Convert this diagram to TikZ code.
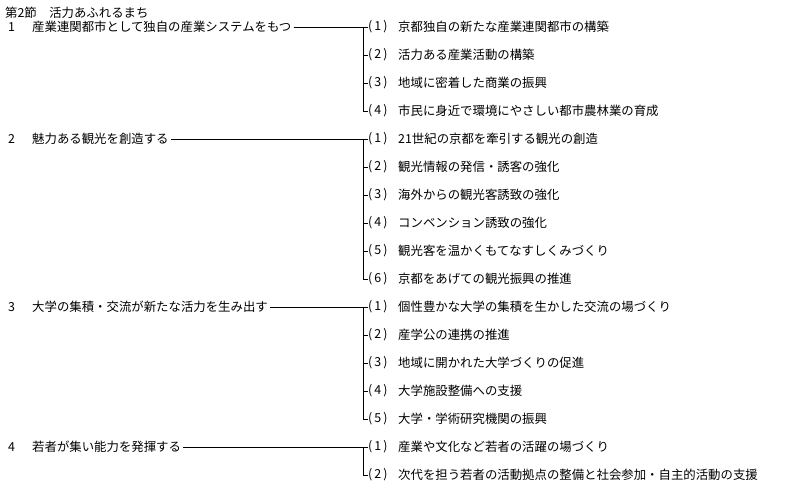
\documentclass[tikz,border=0pt]{standalone}
\usepackage{fontspec}
\setmainfont{Noto Sans CJK JP}
\begin{document}
\begin{tikzpicture}[x=1pt,y=-1pt,
  txt/.style={anchor=west,inner sep=0pt,font=\fontsize{12.4}{13}\selectfont},
  ln/.style={line width=0.8pt}]
\useasboundingbox (0,0) rectangle (795,493);
\node[txt] (title) at (5,13) {第2節　活力あふれるまち};
\def\vx{363}
\newcommand\grp[4]{%
  \node[txt] (n#1) at (8,#2) {#1};
  \node[txt] (h#1) at (32,#2) {#3};
  \coordinate (j#1) at (\vx,#2);
  \draw[ln] (h#1.east) ++(2,0) -- (j#1);
  \foreach \t [count=\i] in {#4} {
    \pgfmathsetmacro\yy{#2+28*(\i-1)}
    \node[txt] (l#1-\i) at (368,\yy) {(\,\i\,)};
    \node[txt] (t#1-\i) at (398,\yy) {\t};
    \coordinate (k#1-\i) at (\vx,\yy);
    \draw[ln] (k#1-\i) -- (l#1-\i.west);
    \ifnum\i>1
      \pgfmathtruncatemacro\pp{\i-1}
      \draw[ln] (k#1-\pp) -- (k#1-\i);
    \fi
  }}
\grp{1}{27}{産業連関都市として独自の産業システムをもつ}{京都独自の新たな産業連関都市の構築,活力ある産業活動の構築,地域に密着した商業の振興,市民に身近で環境にやさしい都市農林業の育成}
\grp{2}{139}{魅力ある観光を創造する}{21世紀の京都を牽引する観光の創造,観光情報の発信・誘客の強化,海外からの観光客誘致の強化,コンベンション誘致の強化,観光客を温かくもてなすしくみづくり,京都をあげての観光振興の推進}
\grp{3}{307}{大学の集積・交流が新たな活力を生み出す}{個性豊かな大学の集積を生かした交流の場づくり,産学公の連携の推進,地域に開かれた大学づくりの促進,大学施設整備への支援,大学・学術研究機関の振興}
\grp{4}{447}{若者が集い能力を発揮する}{産業や文化など若者の活躍の場づくり,次代を担う若者の活動拠点の整備と社会参加・自主的活動の支援}
\end{tikzpicture}
\end{document}
